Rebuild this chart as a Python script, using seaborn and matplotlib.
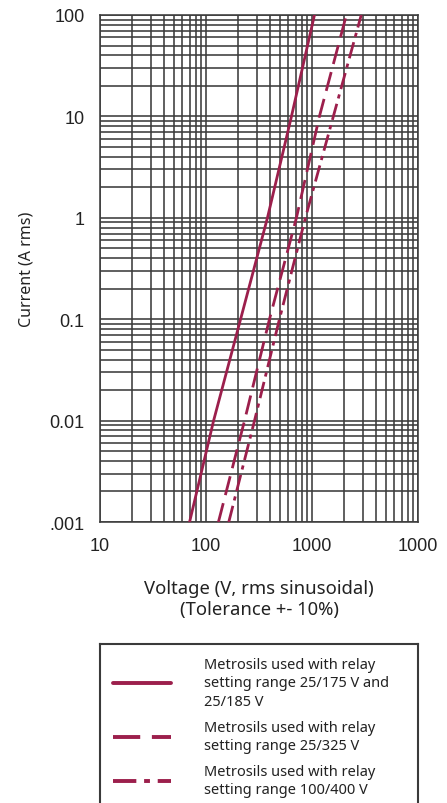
import numpy as np
import pandas as pd
import matplotlib
matplotlib.use("Agg")
import matplotlib.pyplot as plt
import seaborn as sns
from matplotlib.lines import Line2D
from matplotlib.ticker import FixedLocator, FixedFormatter, LogLocator, NullFormatter

# current decades (A rms) and the voltage at those currents
currents = [0.001, 0.01, 0.1, 1, 10, 100]
v_175_185 = [70, 118, 212, 380, 640, 1055]
v_325 = [131, 231, 397, 713, 1175, 2110]
v_100_400 = [164, 287, 493, 867, 1590, 2915]

series_names = [
    "Metrosils used with relay\nsetting range 25/175 V and\n25/185 V",
    "Metrosils used with relay\nsetting range 25/325 V",
    "Metrosils used with relay\nsetting range 100/400 V",
]

x_ticks = [10, 100, 1000, 10000]
x_labels = ["10", "100", "1000", "1000"]
y_ticks = [0.001, 0.01, 0.1, 1, 10, 100]
y_labels = [".001", "0.01", "0.1", "1", "10", "100"]

LINE = "#9c1f4c"
dash_map = {
    series_names[0]: "",
    series_names[1]: (7, 3),
    series_names[2]: (6, 2, 1.5, 2),
}

df = pd.concat([
    pd.DataFrame({"voltage": v, "current": currents, "series": name})
    for v, name in zip([v_175_185, v_325, v_100_400], series_names)
])

sns.set_style("white")
plt.rcParams["font.family"] = ["Liberation Sans", "DejaVu Sans"]

fig = plt.figure(figsize=(4.47, 8.04), dpi=100)
ax = fig.add_axes([100 / 447, 1 - 523 / 804, 318 / 447, 507 / 804])
ax.set_xscale("log")
ax.set_yscale("log")

sns.lineplot(data=df, x="voltage", y="current", style="series",
             dashes=dash_map, color=LINE, linewidth=2, legend=False,
             sort=False, ax=ax, zorder=3)

ax.set_xlim(10, 10000)
ax.set_ylim(0.001, 100)

ax.xaxis.set_major_locator(FixedLocator(x_ticks))
ax.xaxis.set_major_formatter(FixedFormatter(x_labels))
ax.yaxis.set_major_locator(FixedLocator(y_ticks))
ax.yaxis.set_major_formatter(FixedFormatter(y_labels))
ax.xaxis.set_minor_locator(LogLocator(base=10, subs=np.arange(2, 10)))
ax.yaxis.set_minor_locator(LogLocator(base=10, subs=np.arange(2, 10)))
ax.xaxis.set_minor_formatter(NullFormatter())
ax.yaxis.set_minor_formatter(NullFormatter())

ax.grid(True, which="both", color="#3c3c3c", linewidth=1.15)
ax.tick_params(axis="x", which="major", length=4, width=1.1, color="#3c3c3c",
               pad=7, labelsize=13, labelcolor="#222222", direction="out")
ax.tick_params(axis="y", which="major", length=0, pad=11, labelsize=13,
               labelcolor="#222222")
ax.tick_params(which="minor", length=0)
for s in ax.spines.values():
    s.set_color("#3c3c3c")
    s.set_linewidth(1.15)

lab_font = ["Noto Sans", "DejaVu Sans"]
ax.set_ylabel("Current (A rms)", family=lab_font, fontsize=11.5, color="#222222")
ax.yaxis.set_label_coords(-0.205, 0.5)
ax.set_xlabel("Voltage (V, rms sinusoidal)\n(Tolerance +- 10%)", family=lab_font,
              fontsize=13.3, color="#222222", linespacing=1.25)
ax.xaxis.set_label_coords(0.5, -0.112)

# legend box hanging below the chart, cut by the bottom of the figure
lax = fig.add_axes([100 / 447, -0.1, 318 / 447, (1 - 645 / 804) + 0.1])
lax.set_xticks([])
lax.set_yticks([])
for s in lax.spines.values():
    s.set_color("#3a3a3a")
    s.set_linewidth(1.5)

handles = [Line2D([], [], color=LINE, linewidth=2.8,
                  linestyle=("-" if dash_map[n] == "" else (0, dash_map[n])))
           for n in series_names]
leg = lax.legend(handles, series_names, loc="upper left", frameon=False,
                 prop={"family": lab_font, "size": 10.5}, labelcolor="#222222",
                 handlelength=4.0, handletextpad=2.2, labelspacing=0.75,
                 borderaxespad=0.3, borderpad=0.6)
for t in leg.get_texts():
    t.set_linespacing(1.3)

fig.savefig("out.png", dpi=100)
